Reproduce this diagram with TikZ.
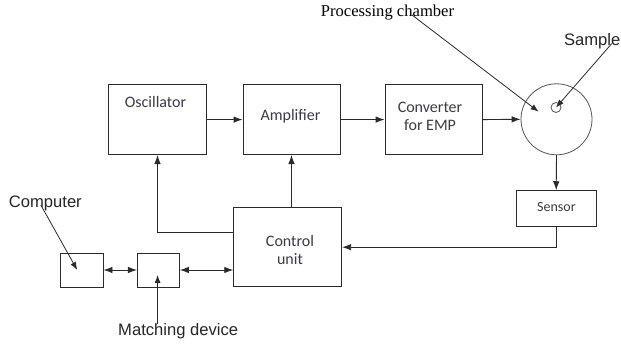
\documentclass[tikz,border=0pt]{standalone}
\usepackage{fontspec}
\setmainfont{Liberation Serif}
\newfontfamily\arialf{Liberation Sans}
\newfontfamily\calibrif{Carlito}
\usetikzlibrary{arrows.meta}
\definecolor{linec}{HTML}{2A2A2A}
\definecolor{boxtext}{HTML}{3A3A48}
\tikzset{
  blk/.style={draw=linec, line width=0.9pt, rectangle, inner sep=0pt},
  blktext/.style={font=\calibrif\fontsize{16}{19}\selectfont, text=boxtext, align=center, inner sep=0pt},
  lbl/.style={font=\arialf\fontsize{16.6}{19}\selectfont, text=black!85, inner sep=0pt},
  conn/.style={draw=linec, line width=0.9pt, -{Latex[length=9pt,width=6.5pt]}},
  dconn/.style={draw=linec, line width=0.9pt, {Latex[length=9pt,width=6.5pt]}-{Latex[length=9pt,width=6.5pt]}},
  lead/.style={draw=linec, line width=0.8pt, -{Latex[length=8pt,width=6pt]}}
}
\begin{document}
\begin{tikzpicture}[x=1pt,y=-1pt]
\useasboundingbox (0,0) rectangle (621,344);
% blocks
\node[blk, minimum width=98pt, minimum height=70pt] (osc) at (157.5,119.6) {};
\node[blktext] (osct) at (155.5,102) {Oscillator};
\node[blk, minimum width=97pt, minimum height=70pt] (amp) at (291.5,119.6) {};
\node[blktext] (ampt) at (290.5,116) {Amplifier};
\node[blk, minimum width=97pt, minimum height=70pt] (conv) at (433.5,119.6) {};
\node[blktext] (convt) at (430,116) {Converter\\[-1pt]for EMP};
\node[draw=linec!80, line width=0.8pt, circle, minimum size=71pt, inner sep=0pt] (ch) at (556.5,119.3) {};
\node[draw=linec!80, line width=0.8pt, circle, minimum size=10pt, inner sep=0pt] (sample) at (556,107.5) {};
\node[blk, minimum width=80.5pt, minimum height=36pt] (sensor) at (556.2,208.7) {};
\node[blktext, font=\calibrif\fontsize{14}{17}\selectfont] (sensort) at (556.4,207.5) {Sensor};
\node[blk, minimum width=108pt, minimum height=79pt] (ctrl) at (287.7,247.2) {};
\node[blktext] (ctrlt) at (290,250) {Control\\[-1pt]unit};
\node[blk, minimum width=43pt, minimum height=34pt] (comp) at (81.5,270) {};
\node[blk, minimum width=42pt, minimum height=34pt] (match) at (158.4,270) {};
% labels
\node[font=\fontsize{16.6}{19}\selectfont, inner sep=0pt] (pc) at (387.5,12.5) {Processing chamber};
\node[lbl, anchor=east] (samplel) at (620.5,41.7) {Sample};
\node[lbl, anchor=west] (compl) at (8.7,203) {Computer};
\node[lbl] (matchl) at (178.2,331) {Matching device};
% connectors
\draw[conn] (osc.east) -- (amp.west);
\draw[conn] (amp.east) -- (conv.west);
\draw[conn] (conv.east) -- (ch.west);
\draw[conn] (ch.south) -- (sensor.north);
\draw[conn] (sensor.south) |- (ctrl.east);
\draw[conn] (amp.south |- ctrl.north) -- (amp.south);
\draw[conn] ([yshift=14.5pt]ctrl.west) -| (osc.south);
\draw[dconn] (comp.east) -- (match.west);
\draw[dconn] (match.east) -- (match.east -| ctrl.west);
% leaders
\coordinate (pcs) at (412,15);
\coordinate (pct) at (538.6,111.7);
\draw[lead] (pcs) -- (pct);
\coordinate (sls) at (612,43.3);
\draw[lead] (sls) -- (sample.center);
\coordinate (cls) at (40.8,205);
\coordinate (clt) at (77.2,270);
\draw[lead] (cls) -- (clt);
\coordinate (mls) at (157.6,324);
\coordinate (mlt) at (157.6,275);
\draw[lead] (mls) -- (mlt);
\end{tikzpicture}
\end{document}
